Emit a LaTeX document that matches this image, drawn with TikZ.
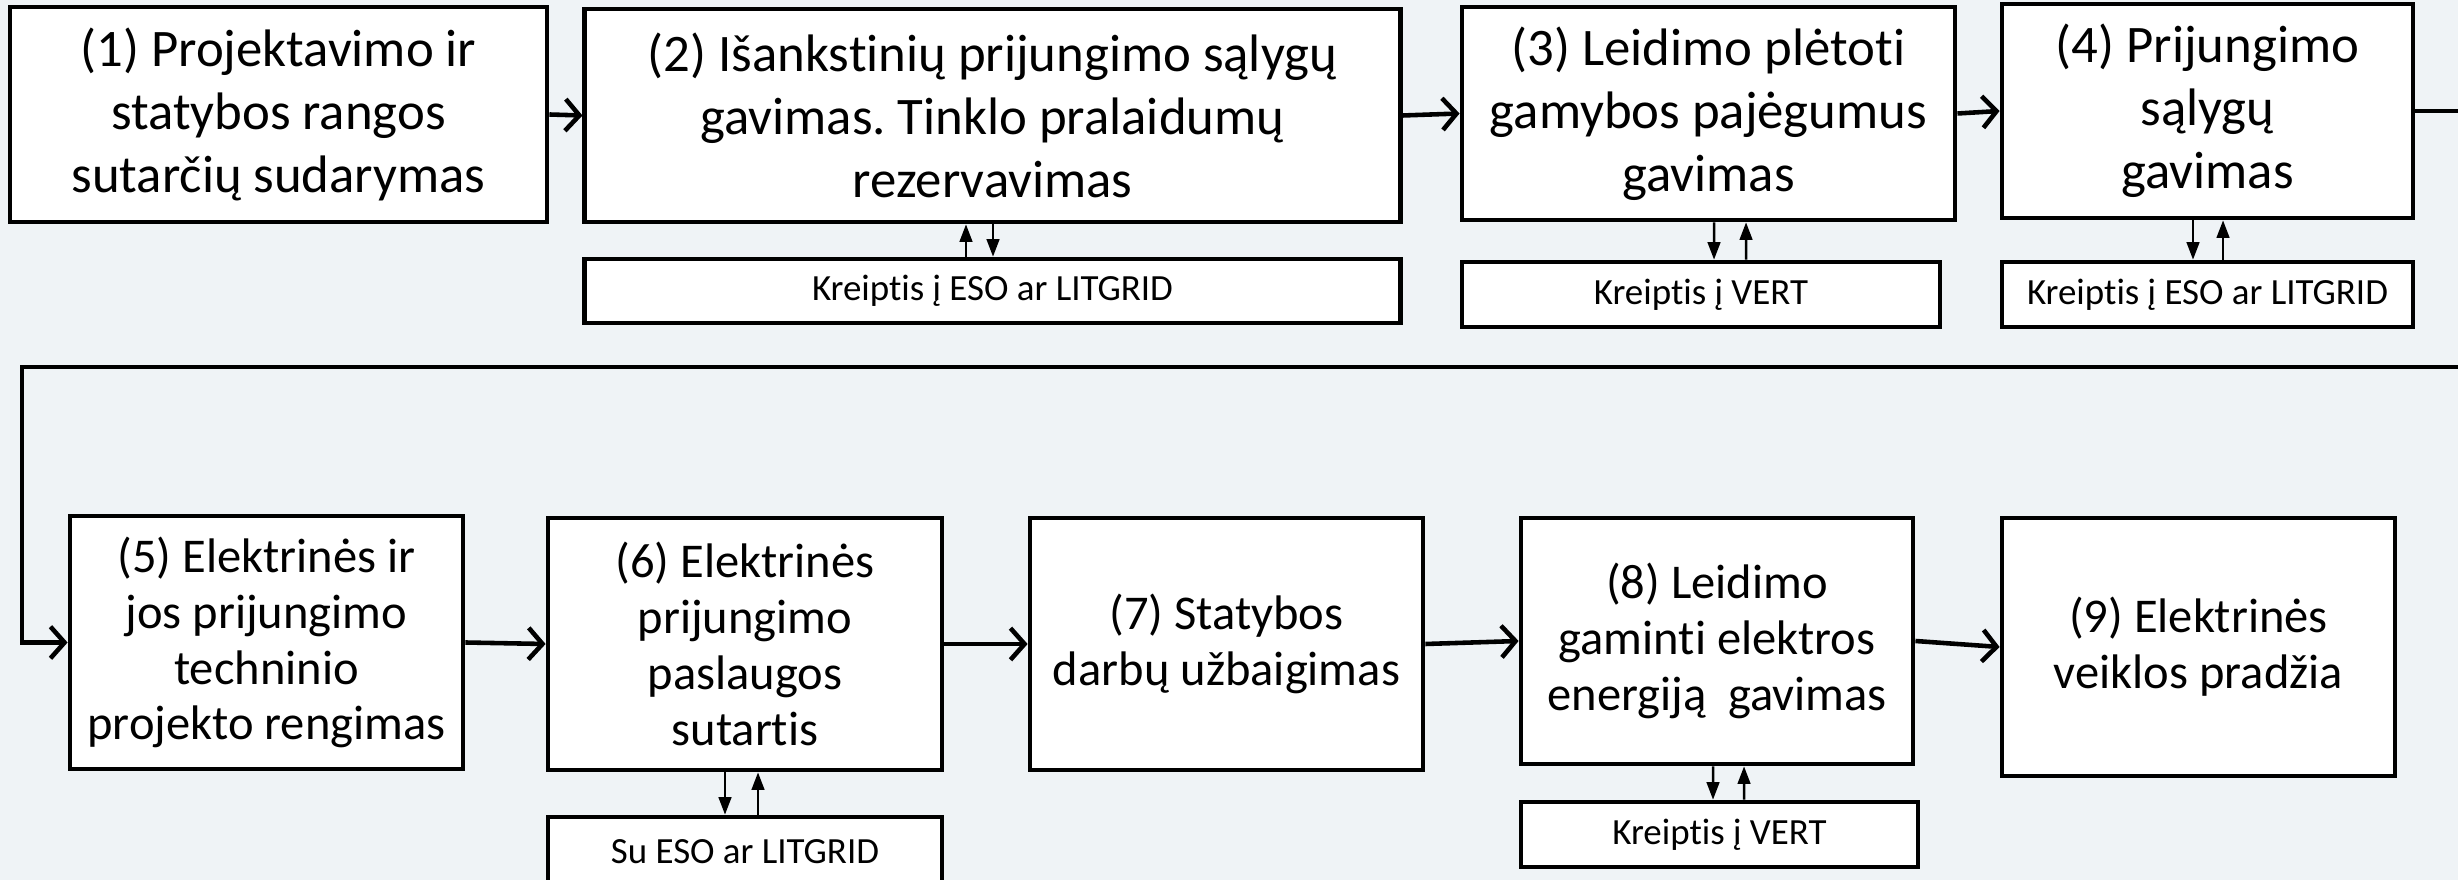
\documentclass[tikz,border=0pt]{standalone}
\usepackage{fontspec}
\setmainfont{Carlito}[Ligatures=NoCommon]
\usetikzlibrary{arrows.meta}
\definecolor{bgpanel}{RGB}{239,243,246}
\frenchspacing

\begin{document}
\begin{tikzpicture}[x=0.01cm,y=-0.01cm,
		box/.style = {draw,fill=white,line width=1.3pt,align=center,inner sep=0pt,font=\fontsize{15}{17.9}\selectfont},
		lowbox/.style = {box,font=\fontsize{13.8}{15.9}\selectfont},
		askbox/.style = {draw,fill=white,line width=1.3pt,align=center,inner sep=0pt,font=\fontsize{10.5}{12}\selectfont},
		flow/.style = {line width=1.3pt,-{Straight Barb[length=4pt,width=9pt]}},
		ask/.style = {line width=0.7pt,-{Triangle[length=5pt,width=3.6pt]}}]
		\fill[bgpanel] (0,0) rectangle (2458,880);
		\useasboundingbox (0,0) rectangle (2458,880);

		\node [box, minimum width=5.37cm, minimum height=2.15cm] (b1) at (278.5,114.5) {(1) Projektavimo ir\\statybos rangos\\sutarčių sudarymas};
		\node [box, minimum width=8.15cm, minimum height=2.13cm] (b2) at (992.5,115.5) {(2) Išankstinių prijungimo sąlygų\\gavimas. Tinklo pralaidumų\\rezervavimas};
		\node [askbox, minimum width=8.15cm, minimum height=0.64cm] (s2) at (992.5,291) {Kreiptis į ESO ar LITGRID};
		\node [box, minimum width=4.93cm, minimum height=2.13cm] (b3) at (1708.5,113.5) {(3) Leidimo plėtoti\\gamybos pajėgumus\\gavimas};
		\node [askbox, minimum width=4.78cm, minimum height=0.65cm] (s3) at (1701,294.5) {Kreiptis į VERT};
		\node [box, minimum width=4.11cm, minimum height=2.14cm] (b4) at (2207.5,111) {(4) Prijungimo\\sąlygų\\gavimas};
		\node [askbox, minimum width=4.11cm, minimum height=0.65cm] (s4) at (2207.5,294.5) {Kreiptis į ESO ar LITGRID};

		\node [lowbox, minimum width=3.93cm, minimum height=2.53cm] (b5) at (266.5,642.5) {(5) Elektrinės ir\\jos prijungimo\\techninio\\projekto rengimas};
		\node [lowbox, minimum width=3.94cm, minimum height=2.52cm] (b6) at (745,644) {(6) Elektrinės\\prijungimo\\paslaugos\\sutartis};
		\node [askbox, minimum width=3.94cm, minimum height=0.70cm] (s6) at (745,852) {Su ESO ar LITGRID};
		\node [lowbox, minimum width=3.93cm, minimum height=2.52cm] (b7) at (1226.5,644) {(7) Statybos\\darbų užbaigimas};
		\node [lowbox, minimum width=3.92cm, minimum height=2.46cm] (b8) at (1717,641) {(8) Leidimo\\gaminti elektros\\energiją\ \ gavimas};
		\node [askbox, minimum width=3.97cm, minimum height=0.65cm] (s8) at (1719.5,834.5) {Kreiptis į VERT};
		\node [lowbox, minimum width=3.93cm, minimum height=2.58cm] (b9) at (2198.5,647) {(9) Elektrinės\\veiklos pradžia};

		\coordinate (offR1) at (2480,111);
		\coordinate (offR2) at (2480,367);
		\coordinate (turnL) at (22,367);

		\draw[flow] (b1.east) -- (b2.west);
		\draw[flow] (b2.east) -- (b3.west);
		\draw[flow] (b3.east) -- (b4.west);
		\draw[flow] (b4.east) -- (offR1) -- (offR2) -- (turnL) |- (b5.west);
		\draw[flow] (b5.east) -- (b6.west);
		\draw[flow] (b6.east) -- (b7.west);
		\draw[flow] (b7.east) -- (b8.west);
		\draw[flow] (b8.east) -- (b9.west);

		\draw[ask] ([xshift=-0.265cm]s2.north) -- ([xshift=-0.265cm]b2.south);
		\draw[ask] ([xshift=0.005cm]b2.south) -- ([xshift=0.005cm]s2.north);
		\draw[ask] ([xshift=0.055cm]b3.south) -- ([xshift=0.13cm]s3.north);
		\draw[ask] ([xshift=0.45cm]s3.north) -- ([xshift=0.375cm]b3.south);
		\draw[ask] ([xshift=-0.145cm]b4.south) -- ([xshift=-0.145cm]s4.north);
		\draw[ask] ([xshift=0.155cm]s4.north) -- ([xshift=0.155cm]b4.south);
		\draw[ask] ([xshift=-0.2cm]b6.south) -- ([xshift=-0.2cm]s6.north);
		\draw[ask] ([xshift=0.13cm]s6.north) -- ([xshift=0.13cm]b6.south);
		\draw[ask] ([xshift=-0.04cm]b8.south) -- ([xshift=-0.065cm]s8.north);
		\draw[ask] ([xshift=0.245cm]s8.north) -- ([xshift=0.27cm]b8.south);
	\end{tikzpicture}
\end{document}
